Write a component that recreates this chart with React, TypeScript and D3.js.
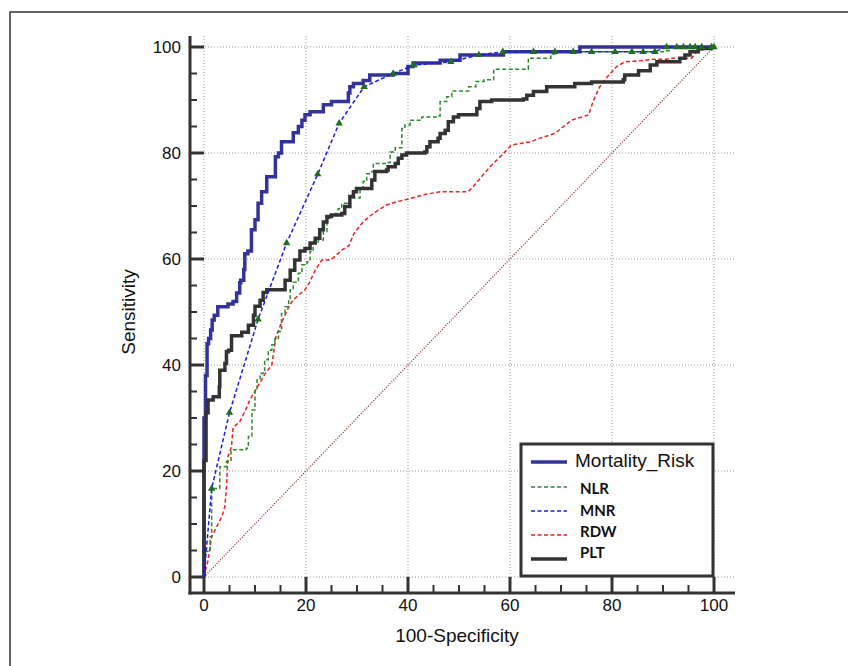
import React from "react";
import * as d3 from "d3";

// ---- Data ----
const mortalityX = [0, 0, 0.3, 0.3, 0.6, 0.6, 0.9, 1.3, 1.6, 2, 2.7, 2.7, 4.7, 5.7, 6.4, 7, 7.2, 7.8, 8, 8.6, 9.3, 10, 10.6, 11.3, 12.3, 13.5, 14, 14.6, 15.2, 17.2, 17.5, 18.5, 19.2, 19.8, 20.8, 23.1, 23.4, 25, 28, 28.3, 28.6, 29.3, 31.2, 32.5, 37.1, 40, 41, 46.3, 50.2, 58.7, 73.7, 73.7, 100];
const mortalityY = [0, 30, 31, 38, 38, 44, 45, 46.6, 48.5, 49.4, 50.5, 51, 51.5, 52, 53.6, 55.5, 56, 58, 61, 61.5, 65.5, 67.4, 70.5, 72.7, 75.5, 75.5, 79.3, 80, 82.1, 82.1, 83.8, 85, 86.2, 87.2, 87.8, 87.8, 89.1, 89.7, 89.7, 91.3, 92.5, 93.1, 93.7, 94.7, 95, 96.3, 97, 97.5, 98.5, 99.1, 99.4, 100, 100];

const nlrX = [0, 0, 0.6, 1.2, 1.5, 1.5, 3.1, 3.1, 4.4, 5.3, 8.3, 8.7, 9.4, 10, 10.4, 11, 11.6, 11.9, 12.6, 13.3, 13.9, 14.6, 15.2, 15.9, 16.6, 16.9, 17.5, 18.5, 19.2, 20.2, 20.8, 21.4, 22.4, 23.4, 24.1, 24.7, 25.7, 26.3, 27, 28.6, 30.6, 31.2, 31.9, 32.9, 33.2, 36.1, 36.5, 37.5, 38.8, 39.4, 40.4, 42.7, 45.9, 46.3, 47.6, 48.6, 51.6, 51.9, 53.3, 54.9, 56.8, 63.3, 63.6, 67.6, 68, 69, 90.5, 91.2, 100];
const nlrY = [0, 4.8, 4.8, 7.6, 7.6, 16.7, 17, 20.8, 21.8, 24, 24.3, 26.5, 31.5, 35.5, 37.2, 38.4, 39, 41, 42.8, 43.8, 45, 46.3, 49.7, 51, 52.3, 54.2, 55.6, 57.3, 58.9, 59.5, 61.4, 63, 63.6, 65.2, 67.7, 68.3, 68.6, 69.5, 70.5, 71.5, 73.3, 74.6, 76.1, 76.5, 78, 78.2, 80.2, 81, 84.6, 85.3, 86.2, 86.8, 87, 89.7, 90.6, 91.7, 91.7, 92.5, 93.5, 93.8, 95.8, 95.8, 97.9, 97.9, 98.7, 99.1, 99.3, 100, 100];

const mnrX = [0, 1.5, 5, 10.6, 16.2, 22.3, 26.5, 31.4, 37.1, 41.2, 48.4, 53.9, 58.6, 64.6, 68.8, 72.4, 76, 80.6, 83.9, 86.1, 88.4, 90.7, 92.7, 94, 95.3, 96.3, 97.6, 99.5, 100];
const mnrY = [0, 16.7, 31, 48.6, 63, 76, 85.6, 92.5, 95, 96.6, 97.2, 98.5, 99.1, 99.1, 99.1, 99.1, 99.1, 99.1, 99.1, 99.1, 99.1, 100, 100, 100, 100, 100, 100, 100, 100];

const rdwX = [0, 0.8, 1.5, 2.5, 3.5, 4.1, 4.4, 4.7, 5.4, 5.7, 7, 8, 9, 10.3, 11.3, 12, 13.3, 14.1, 15.4, 16.8, 17.5, 18.8, 19.8, 20.8, 21.8, 23.1, 24.7, 25.7, 27, 28.4, 29.4, 31.2, 33.2, 35.8, 37.8, 40.4, 43, 46.3, 51.8, 52.8, 56.1, 58.7, 60.3, 62, 64, 65.9, 68.8, 70.5, 72.1, 75.4, 76.4, 77.6, 79, 80.9, 82.5, 85.5, 88.4, 90.7, 92, 95.6, 96.6, 98.6, 100];
const rdwY = [0, 3.2, 7.6, 9.5, 11.4, 13.3, 17, 22.7, 24.6, 28.2, 29.3, 31.2, 33.4, 35.6, 37.2, 38.4, 40, 45.3, 48.5, 51.3, 52.3, 53.4, 54.2, 55.8, 57.9, 59.8, 59.8, 60.5, 61.7, 62.5, 64.8, 67, 68.6, 70.2, 70.8, 71.4, 72.1, 72.7, 72.7, 73.7, 77.4, 79.9, 81.5, 81.8, 82.1, 82.8, 83.7, 85, 86.2, 87.2, 90, 92.5, 94.3, 96.3, 97.2, 97.4, 97.7, 97.7, 97.9, 97.9, 99.1, 99.7, 100];

const pltX = [0, 0, 0.4, 0.4, 0.8, 1.8, 2.8, 3, 3.1, 4.1, 4.4, 4.8, 5.4, 7.4, 8.7, 9.7, 10, 11, 11.6, 12.3, 15.2, 15.9, 16.9, 17.8, 18.8, 19.8, 20.8, 21.8, 22.7, 23.4, 24.1, 25, 27, 27.6, 28.6, 29.3, 29.9, 32.5, 32.9, 33.5, 35.8, 36.1, 37.5, 38.1, 38.8, 39.7, 43.3, 43.7, 44.3, 45.9, 46.3, 47.3, 47.9, 48.9, 49.9, 52.8, 53.5, 54.1, 56.4, 62.6, 63.3, 64.6, 67.2, 67.2, 72.4, 72.7, 76, 82.2, 82.5, 84.8, 85.2, 87.1, 87.5, 88.8, 92.7, 93.3, 94.3, 95.3, 96.6, 96.9, 99.5, 100];
const pltY = [0, 22, 22, 31, 33.4, 34, 34, 35.9, 39, 40.3, 42.5, 42.8, 45.5, 46.2, 47.5, 49.4, 51.1, 52.2, 53.7, 54.2, 54.2, 56, 57.9, 59.8, 61.5, 62, 63, 63.9, 65.5, 67, 68, 68.3, 68.6, 69.9, 71.8, 72.7, 73.3, 73.3, 74.9, 76.5, 76.8, 77.4, 78, 79, 79.6, 80, 80.2, 81.2, 82.1, 82.8, 83.7, 84.3, 85.9, 86.8, 87.2, 87.2, 88.4, 89.7, 90, 90.2, 90.9, 91.6, 92, 92.5, 92.5, 93.1, 93.4, 93.8, 94.7, 94.7, 95.5, 95.5, 96.6, 97.2, 97.2, 97.9, 98.5, 99.1, 99.1, 99.7, 100, 100];

const xTicks = [0, 20, 40, 60, 80, 100];
const yTicks = [0, 20, 40, 60, 80, 100];
const legendLabels = ["Mortality_Risk", "NLR", "MNR", "RDW", "PLT"];

// ---- Layout ----
const W = 848, H = 666;
const plotLeft = 190, plotRight = 735, plotTop = 36, plotBottom = 593;
const x = d3.scaleLinear().domain([0, 100]).range([204, 714]);
const y = d3.scaleLinear().domain([0, 100]).range([577, 47]);

const zip = (xs: number[], ys: number[]) => xs.map((v, i) => [v, ys[i]] as [number, number]);

const stepLine = d3.line<[number, number]>().x(d => x(d[0])).y(d => y(d[1])).curve(d3.curveStepAfter);
const linLine = d3.line<[number, number]>().x(d => x(d[0])).y(d => y(d[1])).curve(d3.curveLinear);

const COLORS = {
  mortality: "#33339a",
  nlr: "#2a8a2a",
  mnr: "#1c1ce6",
  rdw: "#ee2020",
  plt: "#333333",
  diag: "#8b2a2a",
  marker: "#1e6e1e",
};

export default function App() {
  const minorTicks = d3.range(0, 101, 5).filter(v => v % 20 !== 0);
  const tri = d3.symbol().type(d3.symbolTriangle).size(24)() as string;
  const mnrPts = zip(mnrX, mnrY);

  const legendRows = [
    { label: legendLabels[0], color: COLORS.mortality, width: 3.5, dash: undefined, y: 462, ty: 460, big: true },
    { label: legendLabels[1], color: COLORS.nlr, width: 1.5, dash: "4,2.5", y: 487, ty: 489, big: false },
    { label: legendLabels[2], color: COLORS.mnr, width: 1.5, dash: "4,2.5", y: 511, ty: 511, big: false },
    { label: legendLabels[3], color: COLORS.rdw, width: 1.5, dash: "4,2.5", y: 535, ty: 532, big: false },
    { label: legendLabels[4], color: COLORS.plt, width: 3.5, dash: undefined, y: 559, ty: 553, big: false },
  ];

  return (
    <svg width={W} height={H} style={{ position: "absolute", left: 0, top: 0, background: "#fff" }}
      fontFamily="'Liberation Sans', Arial, sans-serif">
      {/* outer frame */}
      <rect x={10} y={12} width={900} height={700} fill="none" stroke="#333" strokeWidth={1.5} />

      {/* grid */}
      {xTicks.map(t => (
        <line key={"gx" + t} x1={x(t)} x2={x(t)} y1={plotTop} y2={plotBottom} stroke="#9a9a9a" strokeWidth={1} strokeDasharray="1,2" />
      ))}
      {yTicks.map(t => (
        <line key={"gy" + t} x1={plotLeft} x2={plotRight} y1={y(t)} y2={y(t)} stroke="#9a9a9a" strokeWidth={1} strokeDasharray="1,2" />
      ))}

      {/* reference diagonal */}
      <line x1={x(0)} y1={y(0)} x2={x(100)} y2={y(100)} stroke={COLORS.diag} strokeWidth={1.3} strokeDasharray="1,1.6" />

      {/* curves */}
      <path d={linLine(zip(rdwX, rdwY)) || ""} fill="none" stroke={COLORS.rdw} strokeWidth={1.5} strokeDasharray="4,2.5" />
      <path d={stepLine(zip(nlrX, nlrY)) || ""} fill="none" stroke={COLORS.nlr} strokeWidth={1.5} strokeDasharray="4,2.5" />
      <path d={stepLine(zip(mortalityX, mortalityY)) || ""} fill="none" stroke={COLORS.mortality} strokeWidth={3.5} />
      <path d={stepLine(zip(pltX, pltY)) || ""} fill="none" stroke={COLORS.plt} strokeWidth={3.5} />
      <path d={linLine(mnrPts) || ""} fill="none" stroke={COLORS.mnr} strokeWidth={1.5} strokeDasharray="4,2.5" />
      {mnrPts.slice(1).map((p, i) => (
        <path key={"m" + i} d={tri} transform={`translate(${x(p[0])},${y(p[1])})`} fill={COLORS.marker} />
      ))}

      {/* axes */}
      <line x1={plotLeft} x2={plotLeft} y1={plotTop} y2={plotBottom + 1.5} stroke="#333" strokeWidth={3} />
      <line x1={plotLeft - 1.5} x2={plotRight} y1={plotBottom} y2={plotBottom} stroke="#333" strokeWidth={3} />
      {yTicks.map(t => (
        <line key={"ty" + t} x1={plotLeft} x2={x(0)} y1={y(t)} y2={y(t)} stroke="#333" strokeWidth={3} />
      ))}
      {minorTicks.map(t => (
        <line key={"mty" + t} x1={plotLeft} x2={plotLeft + 7} y1={y(t)} y2={y(t)} stroke="#333" strokeWidth={2} />
      ))}
      {xTicks.map(t => (
        <line key={"tx" + t} x1={x(t)} x2={x(t)} y1={plotBottom} y2={y(0)} stroke="#333" strokeWidth={3} />
      ))}
      {minorTicks.map(t => (
        <line key={"mtx" + t} x1={x(t)} x2={x(t)} y1={plotBottom} y2={plotBottom - 8} stroke="#333" strokeWidth={2} />
      ))}

      {/* tick labels */}
      {yTicks.map(t => (
        <text key={"ly" + t} x={181} y={y(t)} dy="0.35em" textAnchor="end" fontSize={17} fill="#111">{t}</text>
      ))}
      {xTicks.map(t => (
        <text key={"lx" + t} x={x(t)} y={605} dy="0.35em" textAnchor="middle" fontSize={17} fill="#111">{t}</text>
      ))}

      {/* axis titles */}
      <text x={457} y={635} dy="0.35em" textAnchor="middle" fontSize={19} fill="#111">100-Specificity</text>
      <text transform={`translate(128,312) rotate(-90)`} dy="0.35em" textAnchor="middle" fontSize={19} fill="#111">Sensitivity</text>

      {/* legend */}
      <rect x={521} y={444} width={192} height={132} fill="#fff" stroke="#333" strokeWidth={3} />
      {legendRows.map((r, i) => (
        <g key={"lg" + i}>
          <line x1={531} x2={567} y1={r.y} y2={r.y} stroke={r.color} strokeWidth={r.width} strokeDasharray={r.dash} />
          {r.big ? (
            <text x={575} y={r.ty} dy="0.35em" fontSize={19} fill="#111">{r.label}</text>
          ) : (
            <text x={580} y={r.ty} dy="0.35em" fontSize={15} fontWeight="bold" fontFamily="Lato, 'Open Sans', sans-serif" fill="#111">{r.label}</text>
          )}
        </g>
      ))}
    </svg>
  );
}
